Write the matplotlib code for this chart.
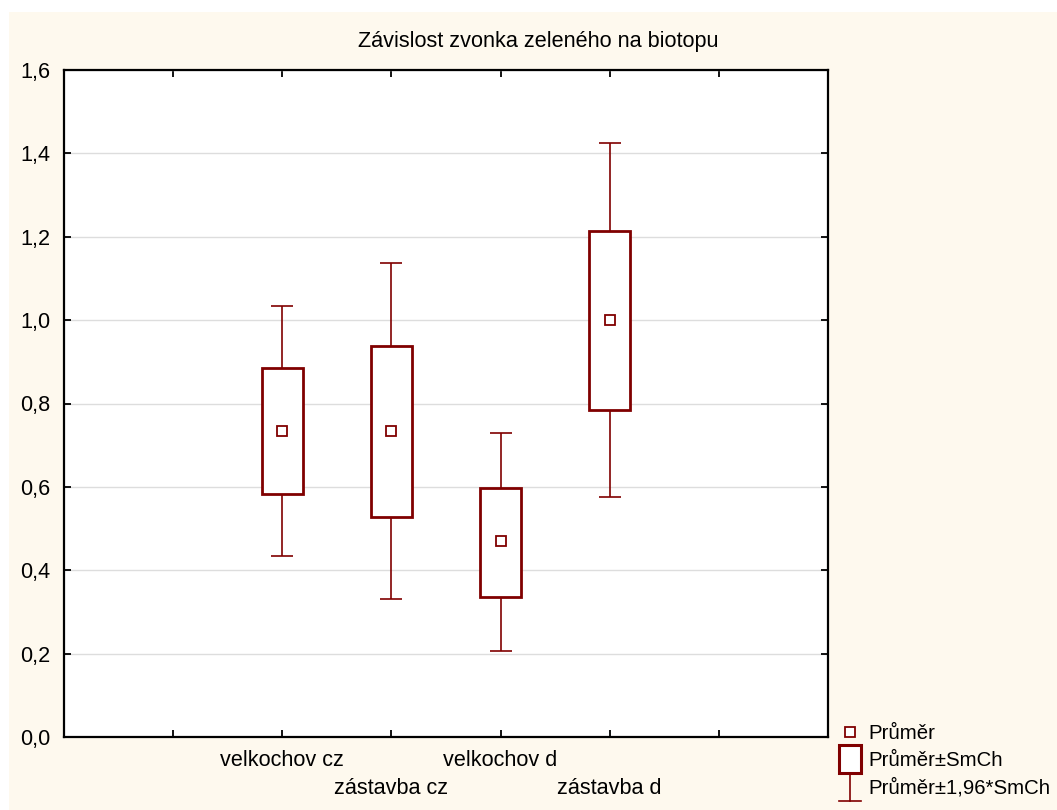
import matplotlib
matplotlib.use("Agg")
import matplotlib.pyplot as plt
from matplotlib.patches import Rectangle
from matplotlib.lines import Line2D
from matplotlib.legend_handler import HandlerBase

# ---- data ----
categories = ["velkochov cz", "zástavba cz", "velkochov d", "zástavba d"]
means = [0.734, 0.734, 0.470, 1.000]
se_low = [0.583, 0.528, 0.336, 0.784]
se_high = [0.885, 0.938, 0.597, 1.214]
ci_low = [0.434, 0.331, 0.206, 0.576]
ci_high = [1.034, 1.137, 0.729, 1.425]
yticks = [0.0, 0.2, 0.4, 0.6, 0.8, 1.0, 1.2, 1.4, 1.6]
title = "Závislost zvonka zeleného na biotopu"
legend_labels = ["Průměr", "Průměr±SmCh", "Průměr±1,96*SmCh"]

RED = "#800000"
CREAM = "#FEF9EE"
plt.rcParams["font.family"] = ["Liberation Sans", "DejaVu Sans"]
FS = 15.6
LFS = 14.7

fig = plt.figure(figsize=(10.57, 8.10), dpi=100, facecolor="white")
fig.patches.append(Rectangle((9 / 1057, 0), 1, (810 - 12) / 810,
                             transform=fig.transFigure, facecolor=CREAM,
                             edgecolor="none", zorder=-10))

ax = fig.add_axes([64 / 1057, 73 / 810, (828 - 64) / 1057, (737 - 70) / 810])
ax.set_facecolor("white")

positions = [i + 2 for i in range(len(categories))]

# whiskers (1.96*SE)
yerr = [[m - l for m, l in zip(means, ci_low)], [h - m for m, h in zip(means, ci_high)]]
ax.errorbar(positions, means, yerr=yerr, fmt="none", ecolor=RED, elinewidth=1.2,
            capsize=8, capthick=1.2, zorder=2)
# boxes (±SE)
ax.bar(positions, [h - l for h, l in zip(se_high, se_low)], bottom=se_low, width=0.38,
       facecolor="white", edgecolor=RED, linewidth=2.0, zorder=3)
# means
ax.plot(positions, means, linestyle="none", marker="s", markersize=7.5,
        markerfacecolor="white", markeredgecolor=RED, markeredgewidth=1.3, zorder=4)

ax.set_xlim(0, len(categories) + 3)
ax.set_ylim(0, 1.6)
ax.set_yticks(yticks)
ax.set_yticklabels([f"{v:.1f}".replace(".", ",") for v in yticks], fontsize=FS)
xt = list(range(1, len(categories) + 3))
ax.set_xticks(xt)
labs = [""]
for i, c in enumerate(categories):
    labs.append(c if i % 2 == 0 else "\n" + c)
labs.append("")
ax.set_xticklabels(labs, fontsize=FS, linespacing=1.45)
ax.tick_params(direction="in", length=5, width=1.3, top=True, right=True, colors="black")
ax.tick_params(axis="y", pad=10)
ax.tick_params(axis="x", pad=9)
ax.yaxis.grid(True, color="#DDDDDD", linewidth=1.0)
ax.set_axisbelow(True)
for s in ax.spines.values():
    s.set_linewidth(1.6)
    s.set_color("black")

fig.text(538 / 1057, (810 - 42) / 810, title, ha="center", va="center", fontsize=FS)


class WhiskerHandler(HandlerBase):
    def create_artists(self, legend, orig_handle, xdescent, ydescent, width, height,
                       fontsize, trans):
        cx = width / 2 - xdescent
        cy = height / 2 - ydescent
        y0 = cy - 10
        y1 = cy + 10
        w = 8
        arts = [Line2D([cx, cx], [y0, y1], color=RED, lw=1.2),
                Line2D([cx - w, cx + w], [y0, y0], color=RED, lw=1.2),
                Line2D([cx - w, cx + w], [y1, y1], color=RED, lw=1.2)]
        for a in arts:
            a.set_transform(trans)
        return arts


class BoxHandler(HandlerBase):
    def create_artists(self, legend, orig_handle, xdescent, ydescent, width, height,
                       fontsize, trans):
        cx = width / 2 - xdescent
        cy = height / 2 - ydescent
        r = Rectangle((cx - 8, cy - 10), 16, 20, facecolor="white",
                      edgecolor=RED, linewidth=2.2, transform=trans)
        return [r]


h_mean = Line2D([], [], linestyle="none", marker="s", markersize=7.5,
                markerfacecolor="white", markeredgecolor=RED, markeredgewidth=1.3)
h_box = Rectangle((0, 0), 1, 1)
h_wh = Line2D([], [])
fig.legend([h_mean, h_box, h_wh], legend_labels, loc="upper left",
           bbox_to_anchor=(837 / 1057, (810 - 724) / 810), frameon=False,
           fontsize=LFS, handlelength=1.25, handletextpad=0.3, labelspacing=0.40,
           borderpad=0, borderaxespad=0,
           handler_map={h_box: BoxHandler(), h_wh: WhiskerHandler()})

fig.savefig("out.png", dpi=100, facecolor=fig.get_facecolor())
